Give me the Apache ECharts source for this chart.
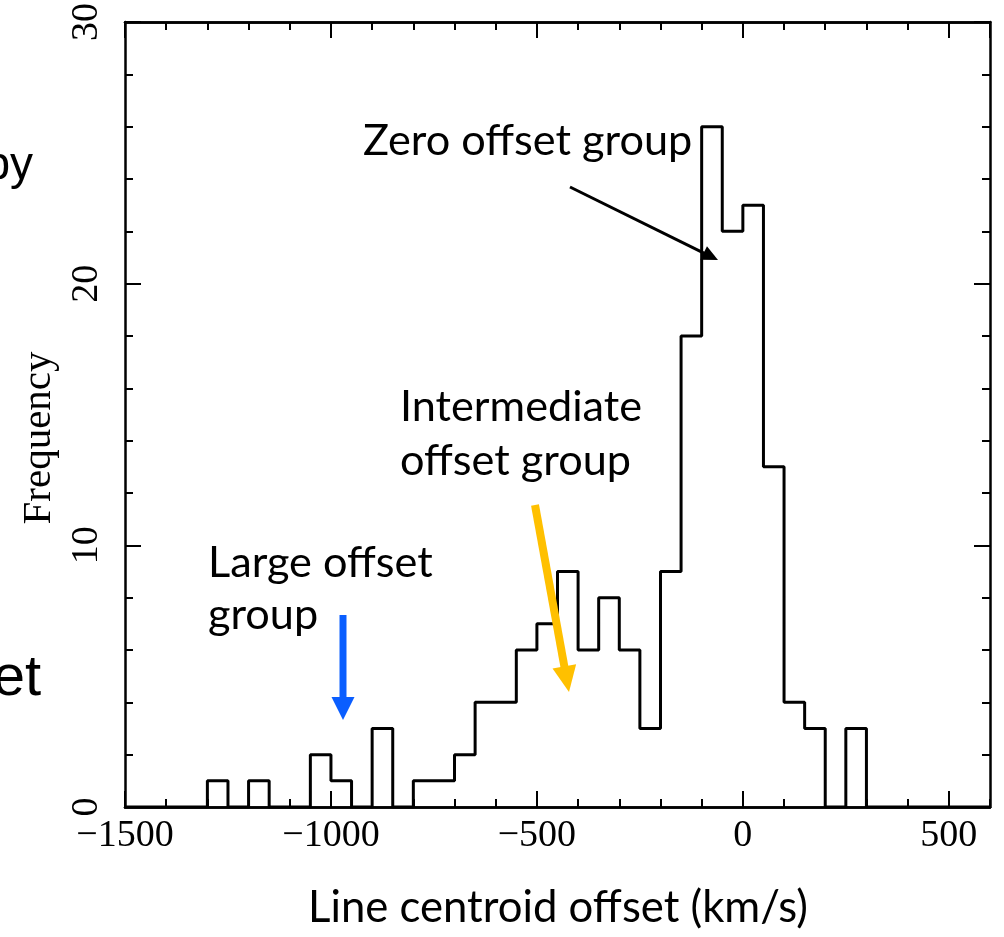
<!DOCTYPE html>
<html><head><meta charset="utf-8">
<script src="https://cdn.jsdelivr.net/npm/echarts@6/dist/echarts.min.js"></script>
<style>html,body{margin:0;padding:0;background:#fff}#c{width:1004px;height:937px}</style>
</head><body><div id="c"></div>
<script>
// ---- data ----
const binStarts = [-1500,-1450,-1400,-1350,-1300,-1250,-1200,-1150,-1100,-1050,
  -1000,-950,-900,-850,-800,-750,-700,-650,-600,-550,
  -500,-450,-400,-350,-300,-250,-200,-150,-100,-50,
  0,50,100,150,200,250,300,350,400,450,500,550];
const binEnd = 600;
const counts = [0,0,0,0,1,0,1,0,0,2,
  1,0,3,0,1,1,2,4,4,6,
  7,9,6,8,6,3,9,18,26,22,
  23,13,4,3,0,3,0,0,0,0,0,0];
const xRange = [-1500, 600];
const yRange = [0, 30];
const xAxisTitle = 'Line centroid offset (km/s)';
const yAxisTitle = 'Frequency';
const annZero = ['Zero offset group'];
const annInter = ['Intermediate', 'offset group'];
const annLarge = ['Large offset', 'group'];
const fragTop = 'py';
const fragBottom = 'et';

// ---- helpers ----
const cv = document.createElement('canvas').getContext('2d');
function fit(text, family, target) {
  cv.font = '100px ' + family;
  return 100 * target / cv.measureText(text).width;
}
function arrow(x1, y1, x2, y2, w, hl, hw, color) {
  const dx = x2 - x1, dy = y2 - y1, L = Math.hypot(dx, dy), ux = dx / L, uy = dy / L;
  const bx = x2 - ux * hl, by = y2 - uy * hl, px = -uy, py = ux;
  return [
    {type: 'line', z: 100, shape: {x1, y1, x2: bx + ux * 2, y2: by + uy * 2}, style: {stroke: color, lineWidth: w}},
    {type: 'polygon', z: 100, shape: {points: [[x2, y2], [bx + px * hw / 2, by + py * hw / 2], [bx - px * hw / 2, by - py * hw / 2]]}, style: {fill: color}}
  ];
}
function txt(text, x, baseline, size, family, align) {
  const asc = family.indexOf('Lato') >= 0 ? 0.387 : (family.indexOf('Serif') >= 0 ? 0.3375 : 0.3465);
  return {type: 'text', z: 100, x: x, y: baseline - asc * size,
    style: {text: text, font: size + 'px ' + family, fill: '#000',
      textAlign: align || 'left', align: align || 'left', textVerticalAlign: 'middle', verticalAlign: 'middle'}};
}

const annFont = 'Lato';
const annSize = (fit(annZero[0], annFont, 320) + fit(annInter[0], annFont, 250) + fit(annLarge[0], annFont, 224)) / 3;
const titleSize = fit(xAxisTitle, annFont, 500);
const serif = '"Liberation Serif"';
const tickFont = 38;

const seriesData = binStarts.map((x, i) => [x, counts[i]]).concat([[binEnd, 0]]);

const lineW = 2.5;
const black = '#000';
function xAx(pos, interval, tickLen, labels) {
  return {
    type: 'value', position: pos, min: xRange[0], max: xRange[1], interval: interval,
    axisLine: {show: true, onZero: false, lineStyle: {color: black, width: lineW}},
    axisTick: {show: true, inside: true, length: tickLen, lineStyle: {color: black, width: 2}},
    axisLabel: {show: labels, color: black, fontFamily: serif, fontSize: tickFont, margin: 10,
      showMaxLabel: false,
      formatter: v => v < 0 ? '\u2212' + Math.abs(v) : String(v)},
    splitLine: {show: false}
  };
}
function yAx(pos, labels) {
  return {
    type: 'value', position: pos, min: yRange[0], max: yRange[1], interval: 10,
    axisLine: {show: true, onZero: false, lineStyle: {color: black, width: lineW}},
    axisTick: {show: true, inside: true, length: 16, lineStyle: {color: black, width: 2}},
    minorTick: {show: true, splitNumber: 5, length: 8, lineStyle: {color: black, width: 2}},
    axisLabel: {show: labels, color: black, fontFamily: serif, fontSize: tickFont, rotate: 90, margin: 19},
    splitLine: {show: false}, minorSplitLine: {show: false}
  };
}

const graphics = [].concat(
  [txt(fragTop, 33, 182, 46, '"Liberation Sans"', 'right'),
   txt(fragBottom, 41, 699, 58, '"Liberation Sans"', 'right')],
  [{type: 'text', z: 100, x: 39, y: 438, rotation: Math.PI / 2,
    style: {text: yAxisTitle, font: '41px ' + serif, fill: '#000', textAlign: 'center', align: 'center', textVerticalAlign: 'middle', verticalAlign: 'middle'}}],
  [txt(xAxisTitle, 558, 925, titleSize, annFont, 'center')],
  [txt(annZero[0], 363, 158, annSize, annFont)],
  [txt(annInter[0], 400, 424, annSize, annFont), txt(annInter[1], 400, 478, annSize, annFont)],
  [txt(annLarge[0], 208, 580, annSize, annFont), txt(annLarge[1], 208, 632, annSize, annFont)],
  arrow(570, 187, 718, 260, 3, 16, 15, '#000'),
  arrow(343, 615, 343, 720, 7, 23, 23, '#0a5eff'),
  arrow(535, 505, 569, 692, 8, 26, 24, '#ffc000')
);

const chart = echarts.init(document.getElementById('c'), null, {renderer: 'canvas'});
chart.setOption({
  animation: false,
  backgroundColor: '#fff',
  grid: {left: 125, right: 14, top: 22, bottom: 130, containLabel: false},
  xAxis: [xAx('bottom', 500, 16, true), xAx('bottom', 100, 8, false), xAx('top', 500, 16, false), xAx('top', 100, 8, false)],
  yAxis: [yAx('left', true), yAx('right', false)],
  series: [{
    type: 'line', step: 'end', xAxisIndex: 0, yAxisIndex: 0, data: seriesData,
    symbol: 'none', lineStyle: {color: black, width: 3}, z: 5
  }],
  graphic: graphics
});
</script>
</body></html>
